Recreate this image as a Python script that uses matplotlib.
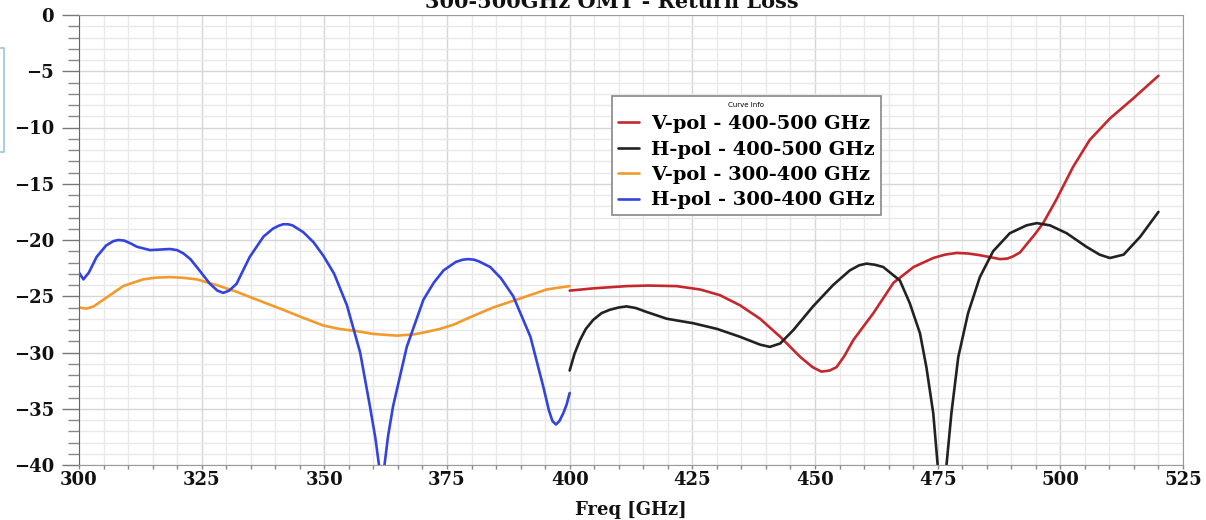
import matplotlib
matplotlib.use("Agg")
import matplotlib.pyplot as plt
from matplotlib.ticker import MultipleLocator
from matplotlib.patches import Rectangle

# values (GHz, dB)
hpol_lo_f = [300, 300.9, 302, 303.6, 305.5, 307, 308, 309.2, 310.5, 311.8, 314.5, 316.5, 318.5,
             320, 321.3, 322.7, 324, 326.7, 328.2, 329.4, 330.6, 332.1, 334.8, 337.6, 339.5,
             340.6, 341.6, 342.6, 343.5, 345.7, 347.8, 349.8, 352, 354.6, 357.3, 359.3, 360.4,
             361.2, 361.7, 362.2, 363.0, 364, 366.8, 370.2, 372.3, 374.3, 376.8, 378.2, 379.3,
             380.5, 381.5, 383.8, 386, 388.5, 392, 394.6, 395.8, 396.5, 397.2, 397.9, 398.7,
             399.4, 400]
hpol_lo_db = [-22.9, -23.5, -22.9, -21.5, -20.5, -20.1, -20.0, -20.05, -20.3, -20.6, -20.9, -20.85,
              -20.8, -20.9, -21.2, -21.7, -22.4, -23.9, -24.5, -24.7, -24.5, -23.9, -21.5, -19.7,
              -19.0, -18.75, -18.6, -18.6, -18.7, -19.3, -20.2, -21.4, -23.0, -25.8, -30.0, -34.8,
              -37.6, -40.2, -41.5, -40.2, -37.4, -34.8, -29.5, -25.3, -23.8, -22.7, -21.95, -21.75,
              -21.7, -21.75, -21.9, -22.4, -23.4, -25.0, -28.6, -33.0, -35.2, -36.1, -36.4, -36.1,
              -35.4, -34.6, -33.6]

vpol_lo_f = [300, 301.5, 303, 305, 307, 309, 311, 313.1, 315.5, 318.5, 321, 324, 328, 332.1,
             336.2, 341.6, 345, 349.8, 353, 356.6, 360, 364.7, 368.1, 370.5, 373.6, 376.5, 379,
             384.4, 389.9, 395.3, 397.5, 400]
vpol_lo_db = [-26.0, -26.1, -25.9, -25.3, -24.7, -24.1, -23.8, -23.5, -23.35, -23.3, -23.35, -23.5,
              -24.0, -24.6, -25.3, -26.2, -26.8, -27.6, -27.9, -28.1, -28.35, -28.5, -28.4, -28.2,
              -27.9, -27.5, -27.0, -26.0, -25.2, -24.4, -24.25, -24.1]

vpol_hi_f = [400, 404.8, 411.6, 416, 421.8, 426.6, 430.6, 434.7, 438.8, 442.9, 447, 449.5, 451.3,
             453, 454.4, 456, 457.8, 461.9, 466, 470.1, 474.1, 476.5, 478.9, 481.2, 483.6, 486,
             487.7, 489.2, 490.4, 491.8, 493.1, 494.8, 496.5, 499.2, 502.6, 506, 510.1, 514.9, 520]
vpol_hi_db = [-24.5, -24.3, -24.1, -24.05, -24.1, -24.4, -24.9, -25.8, -27.0, -28.6, -30.4, -31.3,
              -31.7, -31.6, -31.3, -30.3, -28.9, -26.5, -23.8, -22.4, -21.6, -21.3, -21.15, -21.2,
              -21.35, -21.55, -21.7, -21.65, -21.45, -21.1, -20.4, -19.5, -18.5, -16.4, -13.5, -11.1,
              -9.2, -7.4, -5.4]

hpol_hi_f = [400, 401, 402.1, 403.3, 404.8, 406.5, 408.2, 410, 411.6, 413.5, 415.7, 419.8, 425.2,
             430, 434.7, 438.8, 440.8, 442.9, 445.6, 449.6, 453.7, 457.1, 459, 460.5, 462.2, 463.9,
             467.3, 469.3, 471.4, 472.7, 474.1, 475.0, 475.9, 476.8, 477.8, 479.2, 481.2, 483.6,
             486.3, 489.7, 493.1, 495.2, 497.9, 501.3, 505.3, 508, 510.1, 512.9, 516.3, 520]
hpol_hi_db = [-31.6, -30.1, -28.9, -27.9, -27.1, -26.5, -26.2, -26.0, -25.9, -26.05, -26.4, -27.0,
              -27.4, -27.9, -28.6, -29.3, -29.5, -29.2, -28.0, -25.9, -24.0, -22.7, -22.25, -22.1,
              -22.2, -22.4, -23.6, -25.6, -28.3, -31.3, -35.4, -40.0, -43.0, -40.0, -35.4, -30.4,
              -26.5, -23.3, -21.0, -19.4, -18.7, -18.5, -18.7, -19.4, -20.6, -21.3, -21.6, -21.3,
              -19.7, -17.5]

x_ticks = [300, 325, 350, 375, 400, 425, 450, 475, 500, 525]
y_ticks = [0, -5, -10, -15, -20, -25, -30, -35, -40]

plt.rcParams['font.family'] = ['DejaVu Serif']

fig = plt.figure(figsize=(12.06, 5.2), dpi=100)
ax = fig.add_axes([79 / 1206, 1 - 465 / 520, 1104 / 1206, 450 / 520])

style = dict(lw=1.9, solid_joinstyle='round', solid_capstyle='round')
ax.plot(vpol_hi_f, vpol_hi_db, color='#c4282d', label='V-pol - 400-500 GHz', **style)
ax.plot(hpol_hi_f, hpol_hi_db, color='#222222', label='H-pol - 400-500 GHz', **style)
ax.plot(vpol_lo_f, vpol_lo_db, color='#f29a2b', label='V-pol - 300-400 GHz', **style)
ax.plot(hpol_lo_f, hpol_lo_db, color='#3343e0', label='H-pol - 300-400 GHz', **style)

ax.set_xlim(300, 525)
ax.set_ylim(-40, 0)
ax.set_xticks(x_ticks)
ax.set_yticks(y_ticks)
ax.xaxis.set_minor_locator(MultipleLocator(5))
ax.yaxis.set_minor_locator(MultipleLocator(1))
ax.grid(which='major', color='#d6d6d6', lw=1.0)
ax.grid(which='minor', color='#e9e9e9', lw=1.0)
ax.set_axisbelow(True)

ax.tick_params(axis='y', which='major', length=12, width=1, color='#777777', pad=6,
               labelsize=13, labelcolor='#111111')
ax.tick_params(axis='y', which='minor', length=8, width=1, color='#888888')
ax.tick_params(axis='x', which='both', length=3, width=1, color='#888888', pad=1,
               labelsize=13, labelcolor='#111111')
for lab in ax.get_xticklabels() + ax.get_yticklabels():
    lab.set_fontweight('bold')

for side in ['top', 'right', 'bottom']:
    ax.spines[side].set_color('#9a9a9a')
ax.spines['left'].set_color('#666666')

ax.set_xlabel('Freq [GHz]', fontsize=13, fontweight='bold', labelpad=9, color='#111111')

leg = ax.legend(title='Curve Info', loc='upper left', bbox_to_anchor=(0.483, 0.82),
                prop={'family': 'DejaVu Serif', 'weight': 'bold', 'size': 14},
                title_fontproperties={'family': 'DejaVu Sans', 'size': 5},
                frameon=True, fancybox=False, edgecolor='#888888', framealpha=1,
                handlelength=1.1, handletextpad=0.6, labelspacing=0.38, borderpad=0.3,
                borderaxespad=0)
leg.get_frame().set_linewidth(1.2)

# title, cut off by the top of the screenshot
fig.text(0.507, 1 - 8 / 520, '300-500GHz OMT - Return Loss', ha='center', va='baseline',
         fontsize=15, fontweight='bold', color='#111111')

# stray light blue box at the left edge of the screenshot
fig.patches.append(Rectangle((-0.01, 1 - 152 / 520), 0.013, 104 / 520, transform=fig.transFigure,
                             facecolor='white', edgecolor='#9cc4e2', lw=1.2))

fig.savefig('out.png', dpi=100)
